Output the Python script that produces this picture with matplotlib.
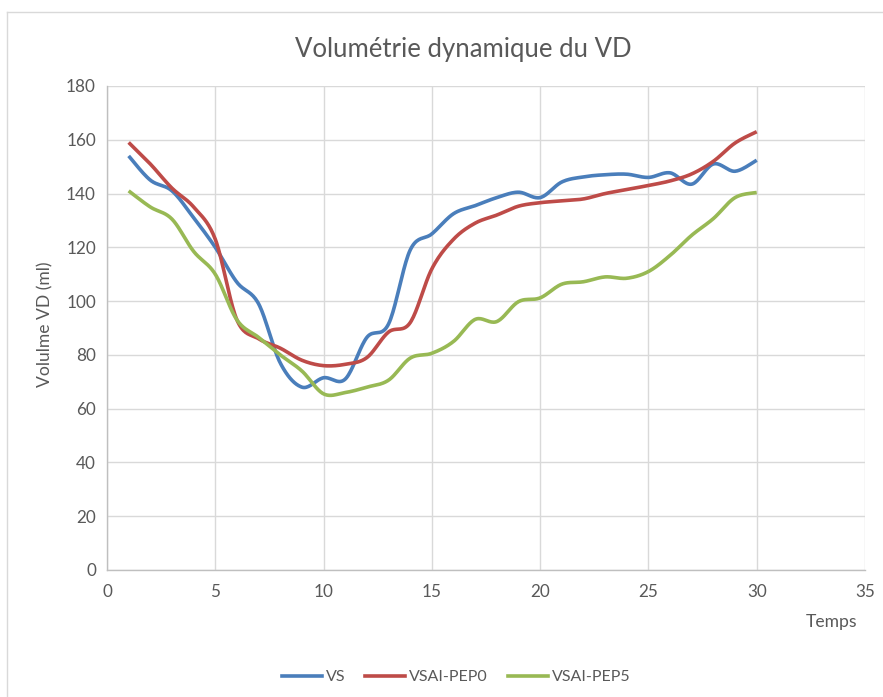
import numpy as np
import matplotlib
matplotlib.use("Agg")
import matplotlib.pyplot as plt
from matplotlib.lines import Line2D

plt.rcParams['font.family'] = ['Lato', 'DejaVu Sans']

temps = list(range(1, 31))
vs = [154, 145, 141, 131, 120, 107, 99, 77, 68, 71.5, 71, 86.5, 91.5, 119, 125,
      132.5, 135.5, 138.5, 140.5, 138.5, 144.3, 146.2, 147, 147.2, 146, 147.7,
      143.5, 151, 148.3, 152.4]
vsai_pep0 = [159, 151, 142, 135, 123, 93, 86, 82.5, 78, 76, 76.5, 79, 88.5, 92,
             112, 123, 129, 132, 135.3, 136.6, 137.3, 138, 140, 141.5, 143,
             144.7, 147.3, 152, 158.8, 163]
vsai_pep5 = [141, 135, 130.5, 118.5, 110, 93, 86.5, 80, 74, 65.5, 66, 68, 70.6,
             78.8, 80.6, 85, 93.2, 92.4, 99.8, 101.2, 106.3, 107.2, 109, 108.5,
             111, 117, 124.5, 130.7, 138.5, 140.4]

series_names = ["VS", "VSAI-PEP0", "VSAI-PEP5"]
colors = ["#4a7ebb", "#be4b48", "#98b954"]

title = "Volumétrie dynamique du VD"
ylabel = "Volulme VD (ml)"
xlabel = "Temps"


def smooth(x, y, n=20):
    x = np.asarray(x, float)
    y = np.asarray(y, float)
    px = np.concatenate([[x[0]], x, [x[-1]]])
    py = np.concatenate([[y[0]], y, [y[-1]]])
    xs, ys = [], []
    t = np.linspace(0, 1, n, endpoint=False)
    for i in range(1, len(px) - 2):
        p0 = np.array([px[i], py[i]])
        p3 = np.array([px[i + 1], py[i + 1]])
        c1 = p0 + (np.array([px[i + 1], py[i + 1]]) - np.array([px[i - 1], py[i - 1]])) / 6
        c2 = p3 - (np.array([px[i + 2], py[i + 2]]) - np.array([px[i], py[i]])) / 6
        b = ((1 - t) ** 3)[:, None] * p0 + (3 * (1 - t) ** 2 * t)[:, None] * c1 \
            + (3 * (1 - t) * t ** 2)[:, None] * c2 + (t ** 3)[:, None] * p3
        xs.extend(b[:, 0]); ys.extend(b[:, 1])
    xs.append(x[-1]); ys.append(y[-1])
    return np.array(xs), np.array(ys)


fig = plt.figure(figsize=(8.83, 6.97), dpi=100)
ax = fig.add_axes([107 / 883, 1 - 570 / 697, (865 - 107) / 883, (570 - 86) / 697])

for data, c, name in zip([vs, vsai_pep0, vsai_pep5], colors, series_names):
    sx, sy = smooth(temps, data)
    ax.plot(sx, sy, color=c, lw=2.6, solid_capstyle='butt', label=name, zorder=3)

ax.set_xlim(0, 35)
ax.set_ylim(0, 180)
ax.set_xticks(range(0, 36, 5))
ax.set_yticks(range(0, 181, 20))
ax.grid(True, color="#d9d9d9", lw=1.0)
ax.set_axisbelow(True)
for s in ["top", "right"]:
    ax.spines[s].set_visible(False)
for s in ["left", "bottom"]:
    ax.spines[s].set_color("#bfbfbf")
    ax.spines[s].set_linewidth(1.0)
ax.tick_params(length=0, labelsize=12.3, labelcolor="#595959", pad=8)
ax.tick_params(axis='x', pad=10)

fig.text(463 / 883, 1 - 50 / 697, title, ha='center', va='center', fontsize=18.5, color="#595959")
fig.text(45 / 883, 1 - 324 / 697, ylabel, ha='center', va='center', rotation=90,
         fontsize=12.6, color="#595959")
fig.text(832 / 883, 1 - 622 / 697, xlabel, ha='center', va='center', fontsize=12.6, color="#595959")

handles = [Line2D([0], [0], color=c, lw=2.6) for c in colors]
fig.legend(handles, series_names, loc='center', bbox_to_anchor=(456 / 883, 1 - 677 / 697),
           ncol=3, frameon=False, fontsize=11.5, labelcolor="#595959",
           handlelength=2.5, handletextpad=0.25, columnspacing=1.25)

border_color = "#d9d9d9"
fig.add_artist(Line2D([7 / 883, 7 / 883], [0, 1 - 12 / 697], color=border_color, lw=1,
                      transform=fig.transFigure))
fig.add_artist(Line2D([7 / 883, 1], [1 - 12 / 697, 1 - 12 / 697], color=border_color, lw=1,
                      transform=fig.transFigure))

fig.savefig("out.png", dpi=100)
